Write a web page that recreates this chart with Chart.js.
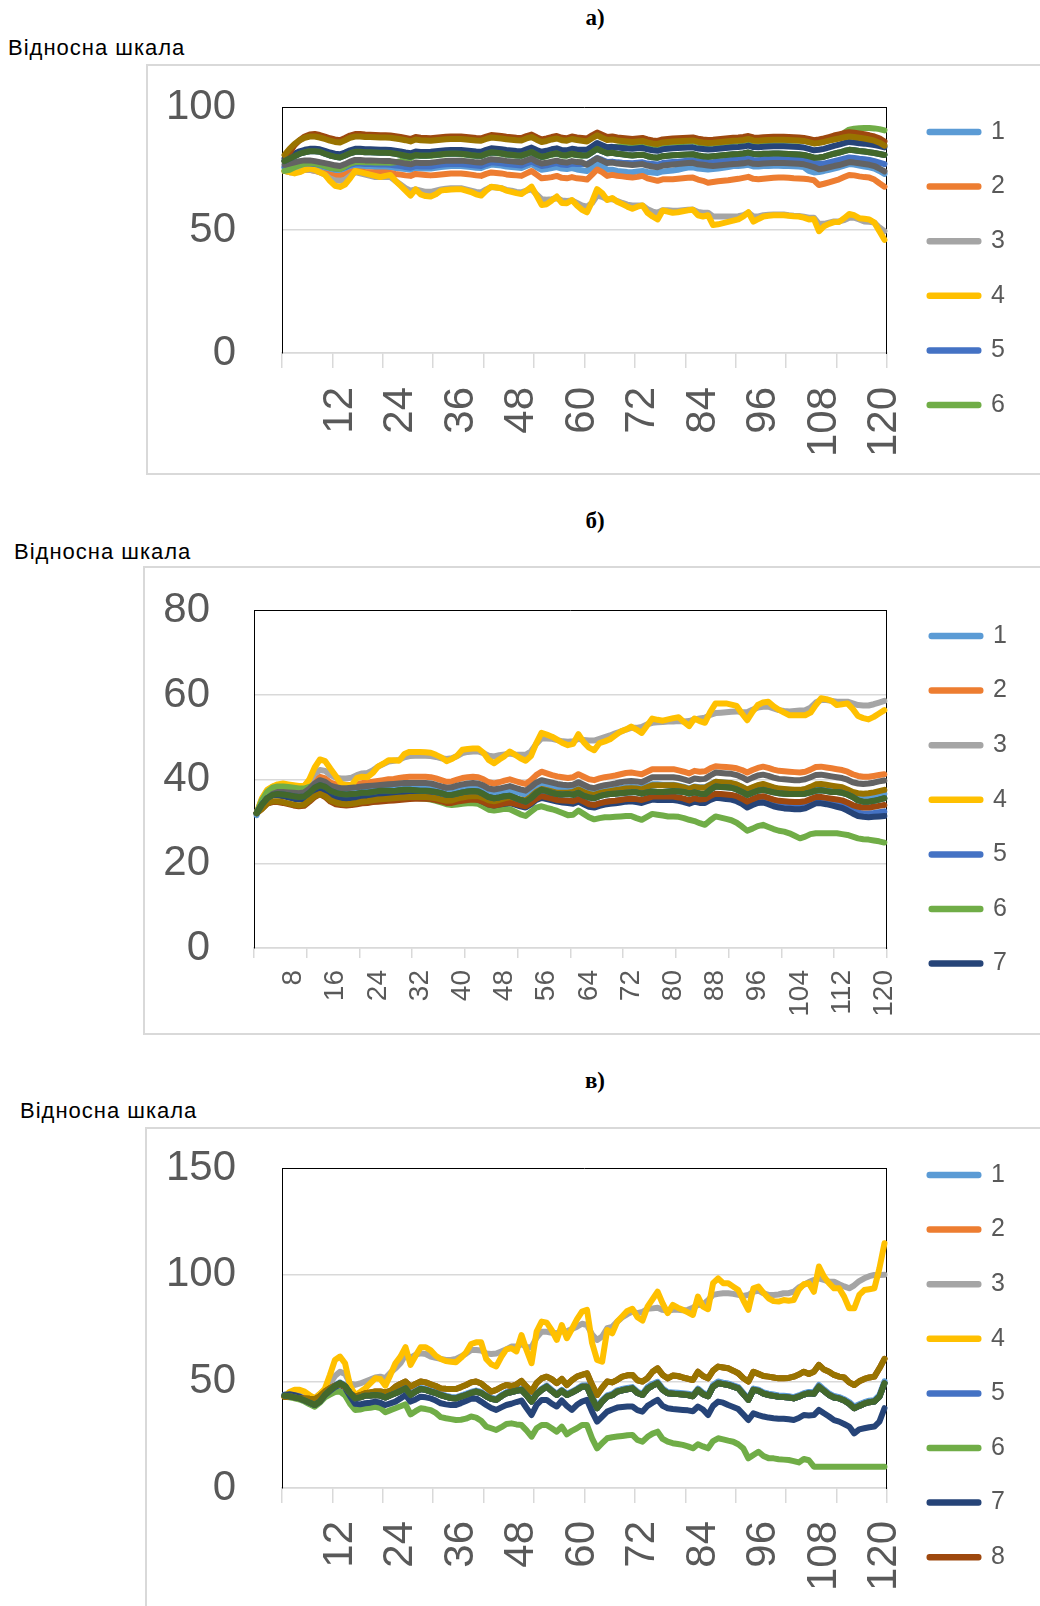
<!DOCTYPE html>
<html>
<head>
<meta charset="utf-8">
<title>Відносна шкала</title>
<script src="https://cdn.jsdelivr.net/npm/chart.js@4.4.1/dist/chart.umd.min.js"></script>
<style>
  body { margin: 0; width: 1040px; height: 1606px; position: relative; overflow: hidden; background: #ffffff; font-family: 'Liberation Sans', Arial, sans-serif; }
  .box { position: absolute; border: 2px solid #d9d9d9; border-right: none; box-sizing: border-box; }
  .ttl { position: absolute; font: bold 23px 'Liberation Serif', 'Times New Roman', serif; color: #000; transform: translate(-50%, -50%); white-space: nowrap; }
  .axname { position: absolute; font-size: 22px; letter-spacing: 1px; color: #000; transform: translateY(-50%); white-space: nowrap; }
  canvas { position: absolute; }
</style>
</head>
<body>

<div class="box" style="left:146px; top:64px; width:910px; height:411px;"></div>
<div class="box" style="left:143px; top:566px; width:910px; height:469px;"></div>
<div class="box" style="left:145px; top:1127px; width:910px; height:600px;"></div>

<div class="ttl" style="left:595px; top:18px;">а)</div>
<div class="axname" style="left:8px; top:48px;">Відносна шкала</div>
<div class="ttl" style="left:595px; top:521px;">б)</div>
<div class="axname" style="left:14px; top:552px;">Відносна шкала</div>
<div class="ttl" style="left:595px; top:1081px;">в)</div>
<div class="axname" style="left:20px; top:1111px;">Відносна шкала</div>

<canvas id="chartA" width="894" height="410" style="left:146px; top:65px;"></canvas>
<canvas id="chartB" width="897" height="469" style="left:143px; top:566px;"></canvas>
<canvas id="chartC" width="895" height="479" style="left:145px; top:1127px;"></canvas>

<script>

var seriesNames = ['1', '2', '3', '4', '5', '6', '7', '8', '9', '10', '11', '12'];
var lineColors = ['#5B9BD5', '#ED7D31', '#A5A5A5', '#FFC000', '#4472C4', '#70AD47',
                  '#264478', '#9E480E', '#636363', '#997300', '#255E91', '#43682B'];

// categories: step numbers 1..120
var steps = [];
for (var s = 1; s <= 120; s++) {
  steps.push(s);
}

var xTicksA = [12, 24, 36, 48, 60, 72, 84, 96, 108, 120];
var xTicksB = [8, 16, 24, 32, 40, 48, 56, 64, 72, 80, 88, 96, 104, 112, 120];
var xTicksC = [12, 24, 36, 48, 60, 72, 84, 96, 108, 120];
var yTicksA = [0, 50, 100];
var yTicksB = [0, 20, 40, 60, 80];
var yTicksC = [0, 50, 100, 150];

// ---- chart а) ----
var a1 = [75.4,75.2,75,75.2,75.5,75.8,75.8,75.5,75,74.5,
  74,73.8,74.5,75.5,76,76,75.8,75.8,75.6,75.6,
  75.6,75.5,75.2,75,74.8,74.5,75.2,75,75,75,
  75.3,75.6,75.8,76,76,76,75.8,75.6,75.3,75.2,
  76,76.6,76.4,76.2,75.8,75.6,75.4,75.2,76,76.8,
  75.5,74.5,74.8,75.2,75.6,75,74.8,75.2,74.6,74.3,
  74,75.5,77,76,74.5,74.5,74,73.8,73.6,73.5,
  73.8,74,73.6,73.4,73.2,73.8,74,74.2,74.5,75,
  75.4,75.5,75,74.8,74.6,74.8,75,75.3,75.6,76,
  76,76.2,76.5,75.8,75.8,76,76,76.1,76.1,76,
  76,75.9,75.8,75.6,74,73.4,73.6,74,74.5,75,
  75.5,76.2,76.8,76.6,76.2,75.8,75.5,75,74,72.8];
var a2 = [74,73.5,73.5,74,74.5,74.5,74,73.5,73,72.5,
  72,72,72.5,73.5,74,73.8,73.6,73.5,73.4,73.4,
  73.4,73.2,72.8,72.5,72.2,72,72.8,72.6,72.4,72.2,
  72.4,72.6,72.8,73,73,73,72.8,72.5,72.2,72,
  72.8,73.4,73.2,73,72.6,72.4,72.2,72,73,74,
  72.5,71,71.2,71.5,72,71.2,71,71.5,71,70.8,
  70.5,72.5,74.6,73.5,72,72.4,72,71.8,71.5,71.3,
  71.6,72,71,70.5,70,70.6,70.6,70.6,70.8,71,
  71.2,71.3,70.5,70,69.2,69.5,69.8,70,70.2,70.5,
  70.8,71.2,71.6,70.8,70.6,70.8,71,71.2,71.3,71.3,
  71.2,71,70.9,70.8,70.6,70.2,68.3,68.8,69.4,70,
  70.6,71.5,72.4,72.2,71.8,71.5,71.3,70.5,69,67.6];
var a3 = [74,73.5,73.5,74,74.5,74.5,74,73.5,72.5,71,
  70.2,70,70.5,72,73.5,73,72.5,72,71.5,71.5,
  71.5,71.5,70,68.5,67,66,66.5,66,65.5,65.5,
  66,66.5,66.8,67,67,67,66.5,66,65.5,65.3,
  66.5,67.5,67.3,67,66.3,66,65.5,65.3,66,66.5,
  64.5,62.5,62.3,62.5,63,62,61.8,62,61,60,
  59.5,61,64,63.5,62.5,62.5,61.8,61,60.3,60,
  60,60,58.5,57.5,57,58,58,57.8,57.8,58,
  58.2,58.3,57.3,57,57,55.5,55.5,55.5,55.5,55.5,
  55.6,56,57,55.5,55.5,56,56.2,56.3,56.3,56.3,
  56,55.8,55.7,55.4,55,55,52.5,52.5,53,53.5,
  53.5,54,55,55,54.3,53.5,53.3,53,51,49.5];
var a4 = [74,73.5,73,73.5,74.5,75,74.5,73.5,72.5,70,
  68,67.5,68.5,71,74,73.5,73,72.5,72,71.5,
  72,72.4,70,68,66,64,66.5,64.5,63.8,63.6,
  64.5,66,66.3,66.5,66.6,66.6,66,65.4,64.5,64,
  66,67.6,67.3,67,66,65.5,65,64.6,66,67.6,
  64,60.2,60.5,62,63.6,61,60.9,62.2,60,58.2,
  57.2,61.5,66.6,65,62.2,63,61.5,60.5,59.5,58.6,
  59.5,60,57,55.5,54.3,57.9,57.5,57,57.2,57.6,
  58,58.2,56,55.5,56,52,52.3,52.8,53.3,53.8,
  54.3,55.5,57.2,53.4,54.5,55.5,55.8,56,56,56,
  55.8,55.6,55.5,55,54.3,54.5,49.5,51.5,52.5,53.2,
  53.3,54.8,56.5,56,54.8,54.6,54.3,53,49.5,46];
var a5 = [75.5,76,76.5,76.8,77,77,76.8,76.5,76,75.5,
  75,74.8,75.5,76.5,77,77,76.8,76.8,76.7,76.6,
  76.6,76.5,76.2,76,75.6,75.3,76,75.8,75.8,75.8,
  76.2,76.5,76.7,76.8,76.8,76.8,76.6,76.4,76.2,76,
  76.8,77.5,77.3,77.1,76.8,76.6,76.4,76.2,77,77.8,
  76.8,76,76.3,76.8,77.2,76.6,76.4,77,76.8,76.8,
  76.8,78,79.3,78.5,77.6,77.8,77.5,77.3,77.2,77.1,
  77.3,77.5,77,76.8,76.6,77.2,77.4,77.6,77.8,78,
  78.2,78.3,77.8,77.6,77.4,77.5,77.7,78,78.2,78.5,
  78.6,78.8,79,78.4,78.4,78.6,78.7,78.8,78.8,78.8,
  78.7,78.6,78.5,78.3,77.6,77,76.8,77,77.5,78,
  78.5,79,79.5,79.3,79,78.8,78.5,78,77.4,76.8];
var a6 = [74,74.5,75.5,76.3,77,77.2,77,76.6,76,75.3,
  75,74.8,75.8,77,77.6,77.6,77.5,77.5,77.4,77.4,
  77.4,77.3,77.5,78,78.6,79.2,80.3,80.1,80.1,80.2,
  80.4,80.6,80.8,80.9,80.9,80.8,80.6,80.3,80.1,80,
  80.8,81.4,81.2,81,80.6,80.4,80.2,80.1,80.8,81.5,
  80.4,79.6,80,80.6,81,80.3,80.2,80.8,80.4,80.2,
  80.6,82.4,84.2,83.8,83.4,83.7,83.8,84,84.2,84.4,
  84.8,85.2,84.8,84.6,84.5,85.2,85.4,85.6,85.7,85.8,
  85.9,86,85.5,85.2,85,85.1,85.3,85.5,85.7,85.9,
  86,86.2,86.6,86,85.9,86.1,86.2,86.3,86.3,86.3,
  86.3,86.3,86.4,86.2,85.7,85.3,85.5,85.9,86.4,87,
  87.6,89.5,90.8,91.2,91.4,91.5,91.5,91.3,91,90.5];
var a7 = [79,80,81,82,82.6,83,83,82.8,82.2,81.5,
  81,80.8,81.5,82.4,83,83,82.8,82.8,82.7,82.6,
  82.6,82.5,82.2,81.9,81.5,81.2,81.9,81.7,81.7,81.8,
  82,82.2,82.4,82.5,82.5,82.5,82.3,82.1,81.9,81.8,
  82.6,83.2,83,82.8,82.5,82.3,82.1,82,82.8,83.5,
  82.5,81.8,82.2,82.8,83.2,82.5,82.4,83,82.7,82.6,
  82.6,84,85.4,84.5,83.6,83.8,83.5,83.3,83.1,83,
  83.2,83.4,82.8,82.4,82.2,82.8,83,83.2,83.3,83.4,
  83.5,83.6,83.1,82.9,82.7,82.8,83,83.2,83.4,83.6,
  83.7,83.9,84.3,83.7,83.6,83.8,83.9,84,84,84,
  83.9,83.8,83.7,83.5,83,82.4,82.6,83,83.6,84.2,
  84.7,85.3,85.8,85.6,85.3,85.1,84.8,84.5,84.1,83.6];
var a8 = [78,81.5,84.5,86.5,88,88.8,89,88.6,88,87.3,
  86.8,86.5,87.4,88.4,89,89,88.8,88.7,88.6,88.5,
  88.5,88.4,88.1,87.8,87.4,87,87.8,87.5,87.4,87.3,
  87.5,87.7,87.9,88,88,88,87.8,87.6,87.4,87.3,
  88,88.6,88.4,88.2,87.9,87.7,87.5,87.4,88.2,88.8,
  87.7,86.8,87.2,87.8,88.2,87.5,87.3,88,87.6,87.4,
  87.2,88.5,89.6,88.7,87.8,88,87.6,87.4,87.2,87,
  87.2,87.4,86.8,86.4,86.2,86.8,87,87.2,87.3,87.4,
  87.5,87.6,87.1,86.8,86.6,86.7,86.9,87.1,87.3,87.5,
  87.6,87.8,88.2,87.6,87.5,87.7,87.8,87.9,87.9,87.9,
  87.8,87.7,87.6,87.4,87,86.5,86.8,87.2,87.8,88.4,
  88.9,89.4,89.7,89.5,89.2,88.9,88.5,88,87.3,86];
var a9 = [76.5,77,77.5,78,78.3,78.3,78,77.6,77.2,76.8,
  76.3,76,76.8,77.8,78.5,78.5,78.3,78.3,78.2,78.1,
  78,78,77.7,77.4,77,76.7,77.4,77.2,77.2,77.3,
  77.6,77.9,78.1,78.2,78.2,78.2,78,77.8,77.5,77.4,
  78.2,78.8,78.6,78.4,78.1,77.9,77.7,77.5,78.3,79,
  77.8,77,77.3,77.8,78.2,77.6,77.4,78,77.6,77.5,
  76.5,77.8,79.2,78.2,77.2,77.4,77,76.8,76.6,76.4,
  76.6,76.8,76.2,75.8,75.5,76.2,76.4,76.6,76.8,77,
  77.2,77.3,76.7,76.5,76.2,76,76.2,76.4,76.6,76.8,
  76.9,77.1,77.5,76.9,76.8,77,77.1,77.2,77.2,77.2,
  77.1,77,76.9,76.7,76.2,75.6,74.7,75,75.5,76,
  76.4,77,77.6,77.4,77.1,76.8,76.5,76,75,73.8];
var a10 = [80.5,83,85,86.5,87.5,88,88,87.6,87,86.3,
  85.8,85.6,86.5,87.5,88,88,87.8,87.8,87.7,87.6,
  87.6,87.5,87.2,86.9,86.5,86,86.8,86.5,86.4,86.3,
  86.5,86.7,86.9,87,87,87,86.8,86.6,86.4,86.3,
  87,87.6,87.4,87.2,86.9,86.7,86.5,86.4,87.2,87.8,
  86.7,85.8,86.2,86.8,87.2,86.5,86.3,87,86.6,86.3,
  86,87.3,88.5,87.5,86.6,86.8,86.4,86.2,86,85.8,
  86,86.2,85.6,85.2,85,85.6,85.8,86,86.1,86.2,
  86.3,86.4,85.9,85.6,85.4,85.5,85.7,85.9,86.1,86.3,
  86.4,86.6,87,86.4,86.3,86.5,86.6,86.7,86.7,86.7,
  86.6,86.5,86.4,86.2,85.7,85.2,85.4,85.8,86.3,86.8,
  87.2,87.7,88,87.8,87.5,87.2,86.8,86.3,85.5,84.3];
var a12 = [78,79,80,81,81.6,82,82,81.8,81,80.3,
  79.8,79.5,80.3,81.2,81.8,81.8,81.6,81.6,81.5,81.4,
  81.4,81.3,81,80.6,80.2,79.8,80.5,80.3,80.3,80.4,
  80.6,80.8,81,81.1,81.1,81,80.8,80.5,80.3,80.2,
  81,81.6,81.4,81.2,80.8,80.6,80.4,80.3,81,81.7,
  80.6,79.8,80.2,80.8,81.2,80.5,80.4,81,80.6,80.4,
  80.3,81.6,83,82,81.2,81.4,81,80.8,80.5,80.3,
  80.5,80.6,80,79.6,79.4,80,80.2,80.4,80.5,80.6,
  80.7,80.8,80.3,80,79.8,80,80.2,80.4,80.6,80.8,
  80.9,81.1,81.5,80.9,80.8,81,81,81.1,81.1,81,
  80.9,80.8,80.7,80.5,80,79.4,79.5,79.8,80.4,81,
  81.5,82.1,82.6,82.4,82.1,81.9,81.6,81.3,80.9,80.5];
// series 11 lies exactly under series 12 in the picture
var a11 = a12;

// ---- chart б) ----
var b1 = [31.5,35,37,37.8,38,37.9,37.7,37.4,37.2,37.3,
  38.3,39.3,39.9,39.4,38.4,37.9,37.6,37.5,37.6,37.8,
  38,38.1,38.2,38.3,38.4,38.5,38.5,38.6,38.7,38.7,
  38.6,38.6,38.5,38.4,38.1,37.7,37.3,37.4,37.8,38.1,
  38.3,38.4,38.3,37.8,37.1,36.8,37,37.3,37.5,37.1,
  36.7,36.4,37.2,38.3,38.9,38.6,38.2,37.9,37.7,37.6,
  37.6,38.1,37.5,37,36.8,37.2,37.4,37.6,37.7,37.9,
  38.1,38.2,38.1,37.9,38.4,38.8,38.8,38.7,38.7,38.7,
  38.5,38.2,37.8,38.3,38.1,38.1,38.8,39.4,39.3,39.2,
  39,38.7,38.2,37.5,38,38.5,38.7,38.3,38,37.7,
  37.6,37.5,37.4,37.4,37.6,38,38.5,38.5,38.3,38.1,
  37.9,37.7,37.3,36.7,36.3,36.1,36.1,36.2,36.4,36.6];
var b2 = [32,34.5,36,37,37.5,37.6,37.5,37.3,37.2,37.4,
  38.5,39.8,40.6,40.2,39.2,38.8,38.6,38.6,38.7,38.9,
  39.1,39.2,39.4,39.6,39.8,40,40.1,40.3,40.5,40.6,
  40.6,40.6,40.6,40.5,40.2,39.8,39.4,39.5,39.9,40.3,
  40.5,40.6,40.5,40,39.3,39,39.3,39.7,40,39.6,
  39.2,38.9,39.8,41,41.8,41.4,41,40.7,40.5,40.3,
  40.5,41.2,40.6,40,39.8,40.2,40.5,40.7,40.9,41.2,
  41.5,41.6,41.4,41.2,41.8,42.4,42.4,42.4,42.4,42.4,
  42.1,41.8,41.4,42,41.8,41.9,42.6,43.1,43,42.9,
  42.8,42.6,42.2,41.6,42.2,42.7,43,42.7,42.3,42,
  41.9,41.8,41.7,41.6,41.8,42.3,42.9,43,42.8,42.6,
  42.4,42.2,41.8,41.2,40.8,40.6,40.6,40.8,41,41.2];
var b3 = [32,35.3,37.3,38.2,38.6,38.7,38.6,38.4,38.3,38.4,
  39.5,41.3,42.2,42,41,40.4,40.2,40.2,40.4,41,
  41.4,41.5,42.1,43,43.6,44.2,44.4,44.6,45.2,45.5,
  45.6,45.6,45.6,45.5,45.3,45,44.8,45,45.5,46.2,
  46.5,46.6,46.6,46.2,45.6,45.4,45.7,45.9,46.1,45.9,
  45.8,45.8,46.6,48.4,49.7,49.7,49.6,49.3,49,48.9,
  49,49.6,49.3,49.2,49.2,49.6,50,50.4,50.9,51.3,
  51.8,52.2,52.2,52.4,53,53.4,53.5,53.6,53.7,53.7,
  53.8,53.7,53.8,54.2,54.4,54.6,55.3,55.7,55.8,55.9,
  56,56.1,55.9,55.9,56.5,57,57.2,57.2,56.8,56.4,
  56.2,56.1,56.2,56.3,56.4,57,58.2,58.8,58.8,58.6,
  58.4,58.4,58.4,58,57.6,57.5,57.5,57.8,58.2,58.6];
var b4 = [32,35.5,37.5,38.3,38.8,39,38.8,38.6,38.4,38.4,
  40,42.8,44.7,44.3,42.5,40.8,39,38.6,38.6,40.3,
  40.6,40.5,41.5,43,43.7,44.5,44.5,44.4,46,46.5,
  46.5,46.5,46.4,46.3,45.8,45.2,44.3,44.8,45.6,47,
  47.2,47.3,47.3,46.3,44.6,43.8,44.7,45.5,46.6,45.8,
  45,44.4,45.5,48.5,51,50.6,50.1,49.4,48.6,48.1,
  48.4,50.7,48.8,47.5,46.9,48.6,49,49.5,50.4,51.3,
  51.8,52.5,51.8,51,52.7,54.4,54.1,53.9,54.2,54.5,
  54.7,53.6,52.6,54.4,53.8,53.4,56,58,58,58,
  57.7,57.4,55.6,54,56,57.6,58.2,58.4,57.3,56.5,
  55.8,55.2,55.2,55.2,55.2,55.8,57.6,59.2,59,58.6,
  57.6,57.8,58,56.7,55,54.5,54.2,54.8,55.6,56.4];
var b5 = [32,34.2,35.6,36.3,36.3,36.1,35.8,35.5,35.3,35.4,
  36.3,37.3,37.9,37.3,36.2,35.6,35.3,35.2,35.3,35.5,
  35.7,35.8,35.9,36,36.1,36.2,36.2,36.3,36.4,36.4,
  36.3,36.2,36.1,36,35.7,35.3,34.9,34.9,35.2,35.5,
  35.6,35.7,35.5,35,34.4,34.2,34.4,34.7,34.9,34.5,
  34.1,33.8,34.6,35.6,36.1,35.8,35.5,35.2,35,34.9,
  34.8,35.3,34.7,34.1,33.9,34.3,34.6,34.8,34.9,35.1,
  35.3,35.4,35.2,35,35.4,35.8,35.7,35.7,35.7,35.7,
  35.5,35.2,34.8,35.3,35,35,35.7,36.2,36.1,35.9,
  35.8,35.4,34.8,34,34.6,35.1,35.2,34.8,34.3,34,
  33.8,33.7,33.6,33.6,33.8,34.4,35,35,34.8,34.5,
  34.2,33.9,33.3,32.6,32.1,31.9,31.9,32,32.2,32.4];
var b6 = [32,35,37,38,38.3,38.3,38.2,38,37.8,37.8,
  38.2,38.6,38.6,38,37,36.3,35.9,35.7,35.6,35.7,
  35.8,35.8,35.8,35.9,35.9,35.9,35.9,35.9,35.9,35.8,
  35.6,35.5,35.4,35.2,34.9,34.5,34.1,33.9,34,34.2,
  34.3,34.3,34.2,33.5,32.8,32.6,32.8,33,32.9,32.3,
  31.7,31.3,32.3,33.3,33.6,33.2,32.9,32.5,32,31.5,
  31.6,32.6,31.8,31,30.5,30.8,31,31,31.1,31.2,
  31.3,31.3,30.8,30.4,31.1,31.8,31.6,31.4,31.2,31.2,
  31.1,30.8,30.4,30.1,29.6,29.2,30.3,31.2,30.9,30.6,
  30.3,29.7,28.8,27.8,28.3,28.9,29.2,28.7,28.2,27.8,
  27.6,27.2,26.6,26,26.4,27,27.2,27.2,27.2,27.2,
  27.2,27,26.8,26.4,26,25.8,25.7,25.5,25.3,25];
var b7 = [32,34,35.5,36.2,36.2,36,35.7,35.4,35.2,35.3,
  36.2,37.2,37.8,37.2,36.1,35.5,35.2,35.1,35.1,35.3,
  35.5,35.6,35.7,35.8,35.9,36,36,36.1,36.2,36.2,
  36.1,36,35.9,35.8,35.5,35.1,34.7,34.7,35,35.2,
  35.3,35.4,35.2,34.6,34,33.8,34,34.2,34.4,34,
  33.6,33.3,34.1,35.1,35.6,35.3,35,34.7,34.5,34.4,
  34.2,34.7,34.1,33.5,33.3,33.7,34,34.2,34.3,34.5,
  34.7,34.8,34.6,34.4,34.8,35.2,35.1,35.1,35.1,35.1,
  34.9,34.6,34.2,34.7,34.4,34.4,35.1,35.6,35.5,35.3,
  35.2,34.8,34.2,33.3,33.9,34.4,34.5,34.1,33.6,33.3,
  33.1,33,32.9,32.9,33.1,33.7,34.3,34.3,34.1,33.8,
  33.5,33.2,32.6,31.9,31.3,31.1,31,31.1,31.2,31.3];
var b8 = [32,33,34.2,34.6,34.6,34.4,34.1,33.8,33.6,33.7,
  34.7,35.8,36.5,35.8,34.7,34.1,33.9,33.8,33.9,34.1,
  34.3,34.4,34.6,34.7,34.8,34.9,35,35.1,35.2,35.3,
  35.4,35.4,35.4,35.3,35.1,34.8,34.4,34.4,34.7,34.9,
  35.1,35.2,35.1,34.6,34,33.8,34,34.3,34.5,34.2,
  33.9,33.6,34.4,35.4,36,35.7,35.4,35.1,35,34.9,
  34.8,35.3,34.7,34.1,33.9,34.3,34.6,34.8,34.9,35.1,
  35.3,35.4,35.3,35.1,35.5,35.9,35.9,35.9,35.9,35.9,
  35.7,35.4,35,35.5,35.2,35.3,36,36.6,36.5,36.4,
  36.3,36,35.4,34.7,35.3,35.8,36,35.6,35.2,34.9,
  34.8,34.7,34.6,34.6,34.8,35.3,35.8,35.8,35.6,35.4,
  35.2,35,34.5,33.9,33.5,33.3,33.3,33.5,33.7,33.9];
var b9 = [32,34,35.5,36.5,37,37,36.9,36.8,36.7,36.9,
  37.8,39,39.8,39.4,38.5,38.1,37.9,37.9,38,38.1,
  38.3,38.4,38.5,38.6,38.7,38.8,38.9,39,39.1,39.1,
  39.1,39.1,39.1,39,38.7,38.3,38,38.1,38.5,38.8,
  39,39.1,39,38.5,37.8,37.6,37.8,38.1,38.4,38,
  37.6,37.3,38.2,39.2,39.8,39.5,39.2,38.9,38.7,38.6,
  38.7,39.3,38.7,38.1,37.9,38.3,38.6,38.8,39,39.3,
  39.5,39.6,39.5,39.3,39.9,40.5,40.5,40.5,40.5,40.5,
  40.3,40,39.6,40.2,40,40.1,40.9,41.6,41.5,41.4,
  41.3,41,40.5,39.8,40.4,40.9,41.1,40.8,40.4,40.1,
  40,39.9,39.8,39.8,40,40.5,41,41.1,40.9,40.7,
  40.5,40.3,39.9,39.3,39,38.9,39,39.2,39.5,39.7];
var b10 = [32,33,34.3,34.8,34.8,34.6,34.3,34,33.8,34,
  35,36,36.5,36,35,34.5,34.2,34.1,34.2,34.4,
  34.7,34.8,35,35.2,35.3,35.4,35.5,35.6,35.7,35.8,
  35.8,35.8,35.8,35.7,35.5,35.2,34.9,35,35.4,35.7,
  35.9,36,36,35.6,35,34.8,35.1,35.5,35.8,35.5,
  35.2,35,35.9,37,37.7,37.4,37.1,36.8,36.8,36.8,
  37,37.6,37,36.5,36.3,36.7,37,37.2,37.4,37.6,
  37.8,37.9,37.8,37.6,38.1,38.6,38.6,38.6,38.6,38.6,
  38.4,38.1,37.7,38.2,38,38,38.7,39.4,39.3,39.2,
  39.1,38.8,38.2,37.6,38.1,38.6,38.9,38.5,38.1,37.8,
  37.7,37.6,37.5,37.5,37.7,38.2,38.8,38.9,38.7,38.5,
  38.3,38.1,37.6,37,36.7,36.6,36.7,36.9,37.2,37.5];
var b12 = [32,34,35.5,36.3,36.5,36.4,36.2,36,35.8,35.9,
  36.8,38,38.6,38.2,37.3,36.8,36.5,36.4,36.5,36.6,
  36.8,36.8,37,37.2,37.3,37.3,37.2,37.4,37.5,37.5,
  37.4,37.3,37.3,37.2,37,36.7,36.3,36.3,36.6,36.9,
  37.1,37.2,37.1,36.5,35.8,35.5,35.7,36,36.1,35.6,
  35.1,34.7,35.5,36.7,37.5,37.2,36.8,36.5,36.4,36.5,
  36.3,36.8,36.1,35.7,35.5,36,36.3,36.5,36.6,36.7,
  36.8,36.9,36.9,36.6,36.9,37.1,37,37,37.1,37.2,
  37.1,37,36.6,36.9,36.6,36.5,37.5,38.3,38.2,38.1,
  38,37.6,37,36.3,36.8,37.3,37.5,37.2,36.9,36.7,
  36.6,36.5,36.5,36.5,36.6,36.9,37.3,37.4,37.2,37,
  37,36.8,36.4,35.8,35,34.7,34.7,34.9,35.2,35.5];
// series 11 is hidden under series 12
var b11 = b12;

// ---- chart в) ----
var c1 = [43.8,43.5,43,42.5,41.5,40.5,39.4,41,44,46.2,
  48.2,49.5,48.2,45,42.5,43,43.8,43.9,44.1,43.8,
  42.9,44,44.9,46,47.2,44.1,45.7,46.9,46.5,45.7,
  45,44,43.3,42.7,42.5,43.3,44.1,45,45.7,45,
  43.5,42.3,41.8,43.5,44.9,45.5,46.1,46.5,44,41,
  44.5,46.5,48,46,44.1,46,44.1,45.2,46.5,48,
  48.2,43,38.2,41.2,43.4,44.1,45.8,46.4,46.9,47.3,
  45.1,44.2,47.3,48.8,49.8,46.6,45,44.8,44.6,44.4,
  44.2,43.6,46.6,44.6,43.6,48.3,49.9,49.4,49,48.1,
  47.3,44.6,41.9,46.6,46.1,44.8,44.2,43.8,43.4,43.3,
  43,42.6,43.4,44.4,45,44.9,48.3,46.2,44.3,43.1,
  42.6,41.6,40.3,38.2,39.2,40.2,40.9,41.2,43.6,50];
var c3 = [43,44.5,45.5,45.5,44.5,43,42,44,46,49,
  52.5,54.5,53.5,49,48.3,49,49.9,50.8,51.8,52.2,
  51.5,54,56.1,58.5,62.4,61,62.5,63.1,62.8,61.6,
  61,60.5,60,60,60.5,61.6,63,64.7,64.7,64.5,
  63.1,62.8,63,64,65,66.3,66.3,67.5,66,66,
  70.5,73.3,73.2,72.8,72.5,73.5,73.5,74.5,75.6,77,
  76.4,72,69.4,71,74.9,75.5,78,80,81.5,82.7,
  82,82.5,84,84.2,84.5,83.5,83,83.5,83.5,83.3,
  83.5,84.5,85.8,86,88,90.5,91,91.3,91.3,91,
  90.5,90,90.5,92,92.5,91.3,90.5,90.5,90.7,91.3,
  91.3,92,94,95.2,96.5,97.5,98.3,97.5,96.7,96.7,
  95.5,94.5,93.6,95,97,98.3,99.3,99.9,99.9,100];
var c4 = [42.8,45,46,46,45.2,43.5,42,44,46.5,53,
  60,61.6,58.5,48,43.6,45,46.7,49,51.4,51.1,
  48,53,58.5,61.6,66,57.7,62,66,66,64.5,
  62,60.5,59.5,59.2,58.9,61,63.5,67.5,68.3,68.3,
  60.5,58,57,61.5,65,65.5,64,71.7,64.7,58.5,
  73.3,78,77.5,74,69.4,76.4,70.2,74.5,79,82.7,
  83.5,68,60,59.2,74.1,72.5,78,80.5,83,84,
  80,78.5,85,88.5,92,86.5,82,85.8,84.5,83.5,
  82.3,81.1,89.7,85,83.8,96,98.3,96,96,94.4,
  92.8,88,83.5,93.6,94.4,91.5,88.9,87.6,87.4,88.1,
  87.8,88.1,93,95.5,96,92,103.8,99.1,96,93.6,
  93.6,89.7,84.2,84.2,90.5,92.8,93.2,93.6,103,114.7];
var c6 = [42.8,42.5,42,41.5,40.5,39.2,38.1,40,42.5,43.8,
  45,45.2,43.5,39.5,36.6,36.8,37.4,37.6,38.1,37.5,
  35.5,36.5,37.4,38.3,39.2,34.5,36,37.4,37,36.5,
  35.2,33.2,32.7,32.3,31.9,32,32.5,33.5,33,31.5,
  28.8,28,27.2,28.5,30,30.3,29.8,29.5,27,24.1,
  28,29.5,29.5,28,26.4,28.8,25.2,26.8,28,29.5,
  29.5,23.3,18.6,21,23.3,23.8,24.1,24.4,24.7,24.9,
  22.5,21.7,24,25.5,26.4,23,21.7,21,20.6,20.2,
  19.5,18.6,20.5,19.5,18.6,22,23.3,22.8,22.2,21.7,
  20.5,18.6,13.9,15.5,17,15,14,13.9,13.5,13.3,
  13.1,12.6,12,13.6,13,10,10,10,10,10,
  10,10,10,10,10,10,10,10,10,10];
var c7 = [43.6,44,43.5,42.8,41.5,40.2,38.9,40.8,43.5,45.5,
  47.3,48.3,47,43,39.5,39.2,39.7,40,40.5,40,
  38.9,39.7,40.5,42,43.6,40.5,41.5,42.8,42.5,42,
  41,39.7,39.2,38.9,38.9,39.8,40.8,41.8,42,40.5,
  38.9,37.5,36.6,37.8,38.9,39.5,40.3,41,37.5,34.2,
  39,41.3,41.3,39.5,38.2,41,38.5,36.6,39,40.5,
  41.3,35.8,31.1,33.5,35.8,36.8,37.7,38,38.2,38.2,
  36.5,35.8,38.5,40,41.3,38.5,37.4,37,36.8,36.6,
  36.4,36,38.2,36.8,34.2,38.5,40.5,40,38.9,38,
  37,34.5,31.9,35,34.2,33.5,33,32.7,32.5,32.5,
  32.2,31.9,32.8,34.2,34,34.2,36.6,35,33.5,31.8,
  31.1,30,28.8,25.6,27.5,28,28.5,28.8,31.1,37.4];
var c10 = [42.8,43,42.5,42,42,41.8,41.7,43,45.2,46.8,
  48,48.6,47.5,44.5,42.8,43.5,44.4,44.8,45.2,45.2,
  44.8,45.5,47.5,48.8,49.9,47.5,48.8,49.9,49.5,48.6,
  47.8,46.7,46.5,46.4,46.4,47.3,48.3,49.5,49.9,49,
  47,45.2,46,47.3,48.3,47.8,48.5,50.2,47.5,45.2,
  49.2,51.4,52.2,51,49.1,51.1,48.3,50.5,52.2,53,
  53.8,48.3,43.6,47,49.9,49.5,50.7,52.2,52.8,53,
  50.5,49.9,51.5,54.5,56.1,53,51.4,52.7,52.5,51.8,
  51.2,50.6,54.5,52.5,51.4,55,56.9,56.5,56.1,55,
  53.8,51.5,49.9,54.5,53.5,52.5,52.2,51.8,51.4,51.4,
  51.6,52.2,53.2,54.5,53.5,54.5,57.7,55.5,54.5,53,
  52.2,51.8,49.5,48.3,50,51.1,51.8,52.2,56.1,60.5];
var c12 = [43.3,43,42.5,42,41,40,38.9,40.5,43.6,45.8,
  47.8,49.1,47.8,44.5,42,42.5,43.3,43.4,43.6,43.3,
  42.4,43.5,44.4,45.5,46.7,43.6,45.2,46.4,46,45.2,
  44.5,43.5,42.8,42.2,42,42.8,43.6,44.5,45.2,44.5,
  43,41.8,41.3,43,44.4,45,45.6,46,43.5,40.5,
  44,46,47.5,45.5,43.6,45.5,43.6,44.7,46,47.5,
  47.5,42,37.4,40.5,42.8,43.5,45.2,45.8,46.3,46.7,
  44.5,43.6,46.5,48,49.1,46,44.4,44.2,44,43.8,
  43.6,43,46,44,43,47.5,49.1,48.7,48.3,47.5,
  46.7,44,41.3,46,45.5,44.2,43.6,43.2,42.8,42.7,
  42.4,42,42.8,43.8,44.4,44.2,47.5,45.5,43.6,42.4,
  42,41,39.5,37.4,38.5,39.5,40.2,40.5,42.8,49.1];
// hidden in the picture: 2, 5, 9, 11 sit under 12, and 8 sits under 10
var c2 = c12;
var c5 = c12;
var c9 = c12;
var c11 = c12;
var c8 = c10;


Chart.defaults.font.family = "'Liberation Sans', Arial, sans-serif";
Chart.defaults.color = '#595959';

function buildDatasets(seriesList) {

  var datasets = [];

  for (var k = 0; k < seriesList.length; k++) {
    datasets.push({
      label: seriesNames[k],
      data: seriesList[k],
      borderColor: lineColors[k],
      backgroundColor: lineColors[k],
      borderWidth: 6,
      borderJoinStyle: 'round',
      borderCapStyle: 'round',
      pointRadius: 0,
      pointHoverRadius: 0,
      tension: 0,
      // later series are painted on top, as in the original
      order: seriesList.length - k,
      xAxisID: 'x',
      yAxisID: 'y'
    });
  }

  return datasets;
}

function printChart(p) {

  var ctx = document.getElementById(p.id).getContext('2d');
  var yMax = p.yTicks[p.yTicks.length - 1];

  return new Chart(ctx, {

    type: 'line',

    data: {
      labels: steps,
      datasets: buildDatasets(p.series)
    },

    options: {
      responsive: false,
      animation: false,
      events: [],
      layout: {
        padding: { left: 0, top: 0, right: p.padRight, bottom: p.padBottom }
      },
      plugins: {
        tooltip: { enabled: false },
        legend: {
          position: 'right',
          align: 'center',
          labels: {
            boxWidth: 49,
            boxHeight: 0.5,
            padding: 29.6,
            color: '#595959',
            font: { size: 25 },
            sort: function(a, b) {
              return a.datasetIndex - b.datasetIndex;
            },
            filter: function(item) {
              return item.datasetIndex < p.legendCount;
            }
          }
        }
      },
      scales: {
        x: {
          type: 'category',
          offset: true,
          grid: {
            offset: true,
            drawOnChartArea: false,
            tickLength: p.tickLength,
            lineWidth: 1.5,
            color: function(c) {
              if (c.type !== 'tick' || c.index % 10 === 0) {
                return '#d9d9d9';
              }
              return 'rgba(0,0,0,0)';
            }
          },
          border: { color: '#d9d9d9', width: 1.5 },
          ticks: {
            autoSkip: false,
            minRotation: 90,
            maxRotation: 90,
            padding: p.xPad,
            color: '#595959',
            font: p.xFont,
            callback: function(value) {
              var lab = this.getLabelForValue(value);
              return p.xTicks.indexOf(lab) >= 0 ? String(lab) : '';
            }
          },
          afterFit: function(scale) {
            scale.height = p.xHeight;
            scale.paddingLeft = 0;
            scale.paddingRight = 0;
          }
        },
        y: {
          min: 0,
          max: yMax,
          afterBuildTicks: function(scale) {
            scale.ticks = p.yTicks.map(function(v) { return { value: v }; });
          },
          grid: {
            lineWidth: 1.5,
            drawTicks: false,
            color: function(c) {
              if (c.tick && c.tick.value === yMax) {
                return 'rgba(0,0,0,0)';
              }
              return '#d9d9d9';
            }
          },
          border: { display: true, color: '#000000', width: 1 },
          ticks: {
            padding: p.yPad,
            color: '#595959',
            font: { size: 42 }
          },
          afterFit: function(scale) {
            // the label gap must not push the plot frame down
            scale.width = p.yWidth;
            scale.paddingTop = 0;
            scale.paddingBottom = 0;
          }
        },
        // empty axes: they only give the plot frame its top and right edges
        xTop: {
          type: 'category',
          position: 'top',
          grid: { display: false },
          ticks: { display: false },
          border: { display: true, color: '#000000', width: 1 },
          afterFit: function(scale) {
            scale.height = p.topHeight;
          }
        },
        yRight: {
          type: 'linear',
          position: 'right',
          grid: { display: false },
          ticks: { display: false },
          border: { display: true, color: '#000000', width: 1 },
          afterFit: function(scale) {
            scale.width = p.gapRight;
          }
        }
      }
    }
  });
}

function init() {

  var narrow = "'Liberation Sans Narrow', 'Liberation Sans', Arial, sans-serif";

  printChart({
    id: 'chartA',
    series: [a1, a2, a3, a4, a5, a6, a7, a8, a9, a10, a11, a12],
    xTicks: xTicksA,
    yTicks: yTicksA,
    legendCount: 6,
    yWidth: 136, topHeight: 42, xHeight: 119,
    gapRight: 12.9, padRight: 25.1, padBottom: 3,
    yPad: 46, xPad: 19, tickLength: 15,
    xFont: { size: 42, family: narrow }
  });

  printChart({
    id: 'chartB',
    series: [b1, b2, b3, b4, b5, b6, b7, b8, b9, b10, b11, b12],
    xTicks: xTicksB,
    yTicks: yTicksB,
    legendCount: 7,
    yWidth: 111, topHeight: 44.6, xHeight: 85.6,
    gapRight: 14.9, padRight: 23.1, padBottom: 1.4,
    yPad: 44, xPad: 12, tickLength: 10,
    xFont: { size: 28 }
  });

  printChart({
    id: 'chartC',
    series: [c1, c2, c3, c4, c5, c6, c7, c8, c9, c10, c11, c12],
    xTicks: xTicksC,
    yTicks: yTicksC,
    legendCount: 8,
    yWidth: 137, topHeight: 41, xHeight: 117.2,
    gapRight: 12.9, padRight: 25.1, padBottom: 0.8,
    yPad: 46, xPad: 18, tickLength: 15,
    xFont: { size: 42, family: narrow }
  });
}

document.addEventListener('DOMContentLoaded', init);

</script>
</body>
</html>
